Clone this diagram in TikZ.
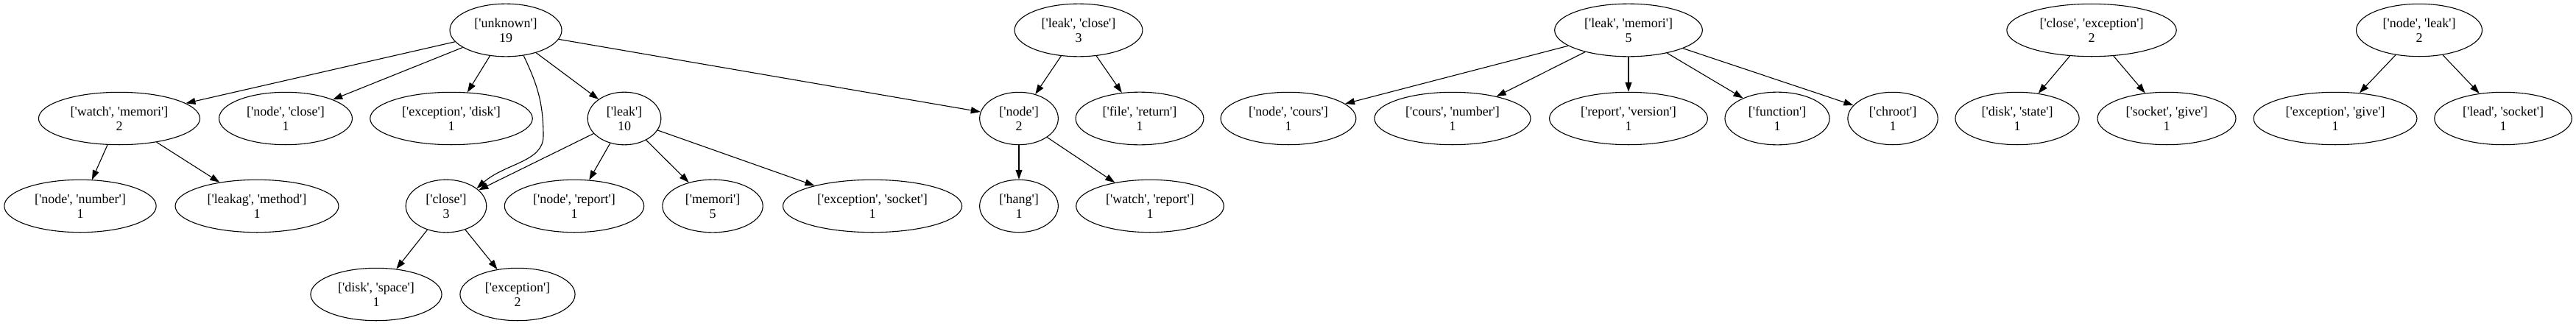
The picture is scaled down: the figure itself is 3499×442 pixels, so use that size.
\documentclass[tikz,border=0pt]{standalone}
\usepackage{fontspec}
\setmainfont{Liberation Serif}
\usepackage{tikz}
\usetikzlibrary{positioning}
\usetikzlibrary{shapes.geometric}
\usetikzlibrary{arrows.meta}

\newcommand{\qw}[1]{\textquotesingle#1\textquotesingle}
\newcommand{\oneword}[1]{[\qw{#1}]}
\newcommand{\wordpair}[2]{[\qw{#1}, \qw{#2}]}

\begin{document}
\begin{tikzpicture}[
x=1pt, y=-1pt,
termnode/.style={
    ellipse,
    draw=black,
    line width=1.1pt,
    align=center,
    font=\fontsize{18}{20}\selectfont,
    inner xsep=11pt, % room beside the label
    inner ysep=9pt,
},
treelink/.style={-{Triangle[length=13pt,width=9pt]}, line width=1.1pt},
]
\useasboundingbox (0,0) rectangle (3499,442);

% first tree
\node[termnode] (unknown) at (687,41) {\oneword{unknown}\\19};

\node[termnode] (watchmemori) at (162,161) {\wordpair{watch}{memori}\\2};
\node[termnode] (nodeclose) at (388,161) {\wordpair{node}{close}\\1};
\node[termnode] (exceptiondisk) at (613,161) {\wordpair{exception}{disk}\\1};
\node[termnode] (leak) at (848,161) {\oneword{leak}\\10};
\node[termnode] (node) at (1384,161) {\oneword{node}\\2};

\node[termnode] (nodenumber) at (109,280) {\wordpair{node}{number}\\1};
\node[termnode] (leakagmethod) at (349,280) {\wordpair{leakag}{method}\\1};
\node[termnode] (close) at (606,280) {\oneword{close}\\3};
\node[termnode] (nodereport) at (780,280) {\wordpair{node}{report}\\1};
\node[termnode] (memori) at (968,280) {\oneword{memori}\\5};
\node[termnode] (exceptionsocket) at (1185,280) {\wordpair{exception}{socket}\\1};
\node[termnode] (hang) at (1384,280) {\oneword{hang}\\1};
\node[termnode] (watchreport) at (1562,280) {\wordpair{watch}{report}\\1};

\node[termnode] (diskspace) at (511,400) {\wordpair{disk}{space}\\1};
\node[termnode] (exception) at (703,400) {\oneword{exception}\\2};

% second tree
\node[termnode] (leakclose) at (1465,41) {\wordpair{leak}{close}\\3};
\node[termnode] (filereturn) at (1548,161) {\wordpair{file}{return}\\1};

% third tree
\node[termnode] (leakmemori) at (2212,41) {\wordpair{leak}{memori}\\5};
\node[termnode] (nodecours) at (1750,161) {\wordpair{node}{cours}\\1};
\node[termnode] (coursnumber) at (1973,161) {\wordpair{cours}{number}\\1};
\node[termnode] (reportversion) at (2212,161) {\wordpair{report}{version}\\1};
\node[termnode] (function) at (2414,161) {\oneword{function}\\1};
\node[termnode] (chroot) at (2571,161) {\oneword{chroot}\\1};

% fourth tree
\node[termnode] (closeexception) at (2841,41) {\wordpair{close}{exception}\\2};
\node[termnode] (diskstate) at (2740,161) {\wordpair{disk}{state}\\1};
\node[termnode] (socketgive) at (2943,161) {\wordpair{socket}{give}\\1};

% fifth tree
\node[termnode] (nodeleak) at (3286,41) {\wordpair{node}{leak}\\2};
\node[termnode] (exceptiongive) at (3172,161) {\wordpair{exception}{give}\\1};
\node[termnode] (leadsocket) at (3400,161) {\wordpair{lead}{socket}\\1};

\draw[treelink] (unknown) -- (watchmemori);
\draw[treelink] (unknown) -- (nodeclose);
\draw[treelink] (unknown) -- (exceptiondisk);
\draw[treelink] (unknown.-55) .. controls (730,115) and (738,140) .. (738,185)
                .. controls (738,220) and (686,222) .. (close.30);
\draw[treelink] (unknown) -- (leak);
\draw[treelink] (unknown) -- (node);

\draw[treelink] (watchmemori) -- (nodenumber);
\draw[treelink] (watchmemori) -- (leakagmethod);

\draw[treelink] (leak) -- (close);
\draw[treelink] (leak) -- (nodereport);
\draw[treelink] (leak) -- (memori);
\draw[treelink] (leak) -- (exceptionsocket);

\draw[treelink] (close) -- (diskspace);
\draw[treelink] (close) -- (exception);

\draw[treelink] (node) -- (hang);
\draw[treelink] (node) -- (watchreport);

\draw[treelink] (leakclose) -- (node);
\draw[treelink] (leakclose) -- (filereturn);

\draw[treelink] (leakmemori) -- (nodecours);
\draw[treelink] (leakmemori) -- (coursnumber);
\draw[treelink] (leakmemori) -- (reportversion);
\draw[treelink] (leakmemori) -- (function);
\draw[treelink] (leakmemori) -- (chroot);

\draw[treelink] (closeexception) -- (diskstate);
\draw[treelink] (closeexception) -- (socketgive);

\draw[treelink] (nodeleak) -- (exceptiongive);
\draw[treelink] (nodeleak) -- (leadsocket);

\end{tikzpicture}
\end{document}
